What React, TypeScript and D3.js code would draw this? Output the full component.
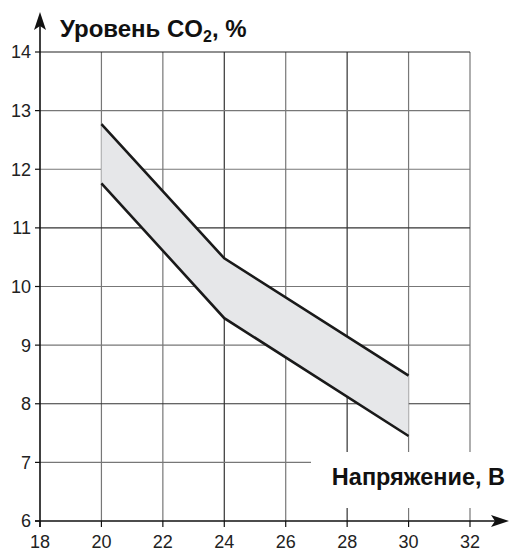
import React from "react";
import * as d3 from "d3";

const xTicks = [18, 20, 22, 24, 26, 28, 30, 32];
const yTicks = [6, 7, 8, 9, 10, 11, 12, 13, 14];
const voltage = [20, 24, 30];
const upperCO2 = [12.77, 10.48, 8.48];
const lowerCO2 = [11.76, 9.46, 7.45];
const darkGridX = [24, 28];
const darkGridY = [11, 8];

export default function App() {
  const W = 511, H = 551;
  const x = d3.scaleLinear().domain([18, 32]).range([40, 470]);
  const y = d3.scaleLinear().domain([6, 14]).range([521, 52]);
  const font = "'Liberation Sans', Arial, Helvetica, sans-serif";

  const band = voltage.map((v, i) => ({ v, lo: lowerCO2[i], hi: upperCO2[i] }));
  const area = d3.area<any>().x(d => x(d.v)).y0(d => y(d.lo)).y1(d => y(d.hi))(band) || "";
  const upLine = d3.line<any>().x(d => x(d.v)).y(d => y(d.hi))(band) || "";
  const loLine = d3.line<any>().x(d => x(d.v)).y(d => y(d.lo))(band) || "";

  const x0 = x(18), y0 = y(6);
  const gapTop = 452, gapBottom = 508;

  return (
    <svg width={W} height={H} style={{ position: "absolute", left: 0, top: 0 }}>
      <rect width={W} height={H} fill="#fff" />
      {xTicks.filter(t => t > 18).map(t => {
        const c = darkGridX.includes(t) ? "#333" : "#777";
        if (t >= 28) {
          return (
            <g key={"vx" + t}>
              <line x1={x(t)} x2={x(t)} y1={y(14)} y2={gapTop} stroke={c} strokeWidth={1.2} />
              <line x1={x(t)} x2={x(t)} y1={gapBottom} y2={y0} stroke={c} strokeWidth={1.2} />
            </g>
          );
        }
        return <line key={"vx" + t} x1={x(t)} x2={x(t)} y1={y(14)} y2={y0} stroke={c} strokeWidth={1.2} />;
      })}
      {yTicks.filter(t => t > 6).map(t => {
        const c = darkGridY.includes(t) ? "#333" : "#777";
        const xEnd = t === 7 ? 311 : x(32);
        return <line key={"hy" + t} x1={x0} x2={xEnd} y1={y(t)} y2={y(t)} stroke={t === 14 ? "#222" : c} strokeWidth={1.2} />;
      })}
      <path d={area} fill="#e6e7e9" />
      <path d={upLine} fill="none" stroke="#1a1a1a" strokeWidth={2.6} />
      <path d={loLine} fill="none" stroke="#1a1a1a" strokeWidth={2.6} />
      <line x1={x0} x2={x0} y1={y0 + 6} y2={24} stroke="#111" strokeWidth={1.6} />
      <path d={`M${x0},12 L${x0 - 6},30 L${x0},26 L${x0 + 6},30 Z`} fill="#111" />
      <line x1={x0 - 5} x2={496} y1={y0} y2={y0} stroke="#111" strokeWidth={1.6} />
      <path d={`M509,${y0} L491,${y0 - 6} L495,${y0} L491,${y0 + 6} Z`} fill="#111" />
      {yTicks.map(t => (
        <g key={"yt" + t}>
          <line x1={x0 - 5} x2={x0} y1={y(t)} y2={y(t)} stroke="#111" strokeWidth={1.2} />
          <text x={x0 - 9} y={y(t)} dy="0.36em" textAnchor="end" fontFamily={font} fontSize={18} fill="#222">{t}</text>
        </g>
      ))}
      {xTicks.map(t => (
        <g key={"xt" + t}>
          <line x1={x(t)} x2={x(t)} y1={y0} y2={y0 + 6} stroke="#111" strokeWidth={1.2} />
          <text x={x(t)} y={548} textAnchor="middle" fontFamily={font} fontSize={18} fill="#222">{t}</text>
        </g>
      ))}
      <text x={60} y={37} fontFamily={font} fontSize={24} fontWeight="bold" fill="#111">
        Уровень CO<tspan fontSize={16} dy={5}>2</tspan><tspan dy={-5}>, %</tspan>
      </text>
      <text x={505} y={485} textAnchor="end" fontFamily={font} fontSize={23.5} fontWeight="bold" fill="#111">
        Напряжение, B
      </text>
    </svg>
  );
}
